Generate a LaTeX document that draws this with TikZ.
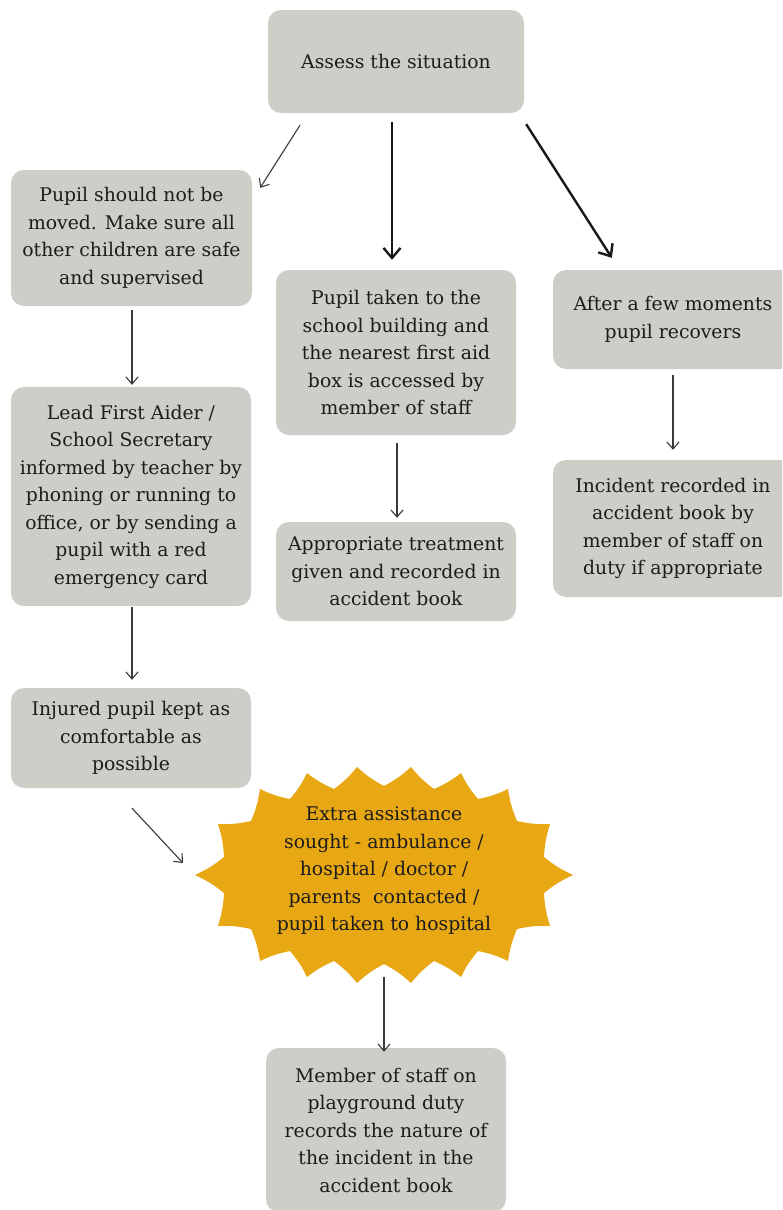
\documentclass[tikz,border=0pt]{standalone}
\usepackage{fontspec}
\setmainfont{DejaVu Serif}
\usetikzlibrary{arrows.meta,calc}
\definecolor{boxgray}{HTML}{CECDC8}
\definecolor{gold}{HTML}{E8A814}
\definecolor{ink}{HTML}{1C1C1C}
\definecolor{arrowc}{HTML}{3A3A3A}
\tikzset{
  box/.style={fill=boxgray, rounded corners=13pt, align=center, text=ink,
    font=\fontsize{18.8}{27.5}\selectfont, inner sep=0pt},
  lbl/.style={align=center, text=ink, font=\fontsize{18.8}{27.5}\selectfont, inner sep=0pt},
  thinarrow/.style={draw=arrowc, line width=1.1pt, -{Straight Barb[length=7pt,width=12pt]}},
  thickarrow/.style={draw=black!90, line width=2.4pt, -{Straight Barb[length=10pt,width=17pt]}},
  cc/.style={bend left=7}
}
\begin{document}
\begin{tikzpicture}[x=1pt,y=-1pt]
\useasboundingbox (0,0) rectangle (782,1210);
\clip (0,0) rectangle (782,1210);
\fill[white] (0,0) rectangle (782,1210);

% boxes
\node[box, minimum width=256pt, minimum height=103pt] (assess) at (396,61.5) {Assess the situation};
\node[box, minimum width=241pt, minimum height=136pt] (still) at (131.5,238) {Pupil should not be\\moved. Make sure all\\other children are safe\\and supervised};
\node[box, minimum width=240pt, minimum height=219pt] (lead) at (131,496.5) {Lead First Aider /\\School Secretary\\informed by teacher by\\phoning or running to\\office, or by sending a\\pupil with a red\\emergency card};
\node[box, minimum width=240pt, minimum height=100pt] (injured) at (131,738) {Injured pupil kept as\\comfortable as\\possible};
\node[box, minimum width=240pt, minimum height=165pt] (taken) at (396,352.5) {Pupil taken to the\\school building and\\the nearest first aid\\box is accessed by\\member of staff};
\node[box, minimum width=240pt, minimum height=99pt] (treat) at (396,571.5) {Appropriate treatment\\given and recorded in\\accident book};
\node[box, minimum width=240pt, minimum height=99pt] (recover) at (673,319.5) {After a few moments\\pupil recovers};
\node[box, minimum width=240pt, minimum height=137pt] (incident) at (673,528.5) {Incident recorded in\\accident book by\\member of staff on\\duty if appropriate};
\node[box, minimum width=240pt, minimum height=164pt] (member) at (386,1130) {Member of staff on\\playground duty\\records the nature of\\the incident in the\\accident book};

% starburst
\coordinate (starc) at (384,875);
\begin{scope}[shift={(starc)}]
\fill[gold] (189,0) to[cc] (160,-18) to[cc] (166,-51) to[cc] (133,-54) to[cc]
 (124,-86) to[cc] (94,-76) to[cc] (77,-102) to[cc] (50,-86) to[cc]
 (27,-108) to[cc] (0,-89) to[cc] (-27,-108) to[cc] (-50,-86) to[cc]
 (-77,-102) to[cc] (-94,-76) to[cc] (-124,-86) to[cc] (-133,-54) to[cc]
 (-166,-51) to[cc] (-160,-18) to[cc] (-189,0) to[cc] (-160,18) to[cc]
 (-166,51) to[cc] (-133,54) to[cc] (-124,86) to[cc] (-94,76) to[cc]
 (-77,102) to[cc] (-50,86) to[cc] (-27,108) to[cc] (0,89) to[cc]
 (27,108) to[cc] (50,86) to[cc] (77,102) to[cc] (94,76) to[cc]
 (124,86) to[cc] (133,54) to[cc] (166,51) to[cc] (160,18) to[cc] (189,0) -- cycle;
\end{scope}
\node[lbl] (star) at (384,871) {Extra assistance\\sought - ambulance /\\hospital / doctor /\\parents~ contacted /\\pupil taken to hospital};

% connectors
\draw[thinarrow] ($(assess.south)+(-96,12)$) -- ($(still.north east)+(8,18)$);
\draw[thickarrow] ($(assess.south)+(-4,9)$) -- ($(taken.north)+(-4,-10)$);
\draw[thickarrow] ($(assess.south east)+(2,11)$) -- ($(recover.north west)+(59,-12)$);
\draw[thinarrow] ($(still.south)+(0.5,4)$) -- ($(lead.north)+(1,-2)$);
\draw[thinarrow] ($(lead.south)+(1,1)$) -- ($(injured.north)+(1,-8)$);
\draw[thinarrow] ($(taken.south)+(1,8)$) -- ($(treat.north)+(1,-4)$);
\draw[thinarrow] ($(recover.south)+(0,6)$) -- ($(incident.north)+(0,-10)$);
\draw[thinarrow] ($(injured.south)+(1,20)$) -- ($(starc)+(-201,-12)$);
\draw[thinarrow] ($(starc)+(0,102)$) -- ($(member.north)+(-2,4)$);
\end{tikzpicture}
\end{document}
